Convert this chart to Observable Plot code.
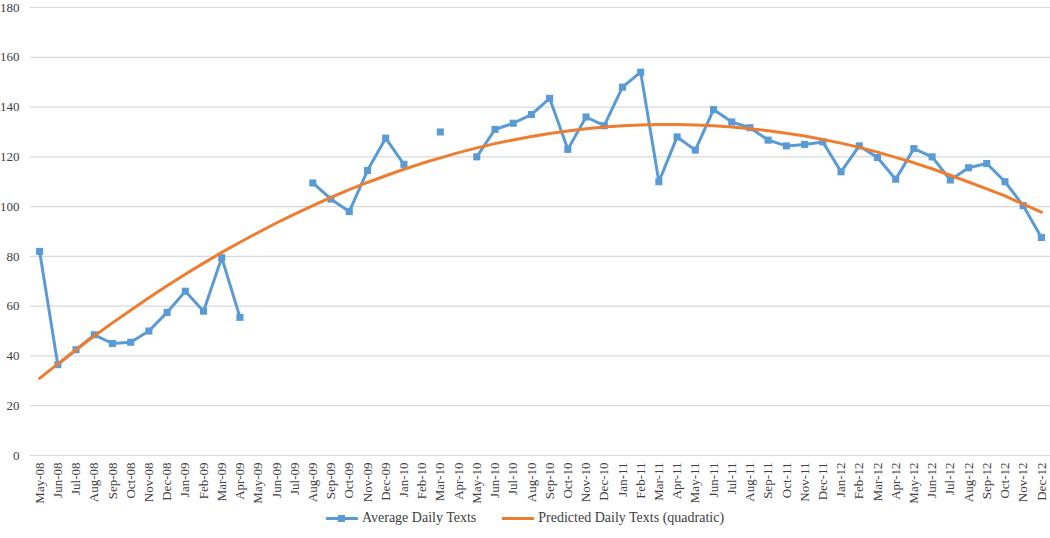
<!DOCTYPE html>
<html>
<head>
<meta charset="utf-8">
<script src="https://cdn.jsdelivr.net/npm/d3@7"></script>
<script src="https://cdn.jsdelivr.net/npm/@observablehq/plot@0.6"></script>
<style>
  body { margin: 0; background: #fff; font-family: 'Liberation Serif', 'Times New Roman', serif; }
  #legend { display: flex; justify-content: center; gap: 26px; font-size: 14px; color: #404040; margin-top: 2px; }
  #legend .item { display: flex; align-items: center; gap: 4px; }
</style>
</head>
<body>
<div id="chart"></div>
<div id="legend"></div>
<script>
const months = [
  "May-08","Jun-08","Jul-08","Aug-08","Sep-08","Oct-08","Nov-08","Dec-08",
  "Jan-09","Feb-09","Mar-09","Apr-09","May-09","Jun-09","Jul-09","Aug-09","Sep-09","Oct-09","Nov-09","Dec-09",
  "Jan-10","Feb-10","Mar-10","Apr-10","May-10","Jun-10","Jul-10","Aug-10","Sep-10","Oct-10","Nov-10","Dec-10",
  "Jan-11","Feb-11","Mar-11","Apr-11","May-11","Jun-11","Jul-11","Aug-11","Sep-11","Oct-11","Nov-11","Dec-11",
  "Jan-12","Feb-12","Mar-12","Apr-12","May-12","Jun-12","Jul-12","Aug-12","Sep-12","Oct-12","Nov-12","Dec-12"
];
const averageDailyTexts = [
  82, 36.5, 42.5, 48.5, 45, 45.5, 50, 57.5,
  66, 58, 79.5, 55.5, null, null, null, 109.5, 103, 98, 114.5, 127.5,
  117, null, 130, null, 120, 131, 133.5, 137, 143.5, 123, 136, 132.5,
  148, 154, 110, 128, 122.7, 139, 134, 131.7, 126.7, 124.4, 125, 126,
  114, 124.4, 119.7, 111, 123.3, 120, 110.7, 115.6, 117.3, 110, 100.4, 87.6
];
const predictedDailyTexts = [
  31.0, 36.8, 42.5, 48.0, 53.3, 58.4, 63.4, 68.2,
  72.8, 77.3, 81.6, 85.7, 89.6, 93.4, 97.0, 100.4, 103.7, 106.8, 109.7, 112.4,
  115.0, 117.4, 119.6, 121.7, 123.6, 125.3, 126.8, 128.2, 129.4, 130.4, 131.3, 132.0,
  132.5, 132.8, 133.0, 133.0, 132.8, 132.5, 132.0, 131.3, 130.5, 129.5, 128.4, 127.0,
  125.5, 123.8, 121.9, 119.8, 117.6, 115.2, 112.6, 109.9, 107.1, 104.3, 101.0, 97.8
];
const yTicks = [0, 20, 40, 60, 80, 100, 120, 140, 160, 180];
const seriesNames = ["Average Daily Texts", "Predicted Daily Texts (quadratic)"];
const colors = ["#5b9bd5", "#ed7d31"];

const data = months.map((m, i) => ({ month: m, actual: averageDailyTexts[i], predicted: predictedDailyTexts[i] }));

const chart = Plot.plot({
  width: 1050,
  height: 508,
  marginLeft: 30,
  marginRight: 0,
  marginTop: 7,
  marginBottom: 53,
  style: { fontFamily: "'Liberation Serif', 'Times New Roman', serif", fontSize: "13px", color: "#404040", background: "#fff" },
  x: { type: "point", domain: months, padding: 0.5, round: false, label: null, tickRotate: -90, tickSize: 0, tickPadding: 7 },
  y: { domain: [0, 180], ticks: yTicks, label: null, tickSize: 0, tickPadding: 11 },
  marks: [
    Plot.ruleY(yTicks, { stroke: "#d9d9d9", strokeWidth: 1.2 }),
    Plot.line(data, { x: "month", y: "actual", stroke: colors[0], strokeWidth: 3, curve: "linear" }),
    Plot.dot(data.filter(d => d.actual != null), { x: "month", y: "actual", symbol: "square", fill: colors[0], r: 4 }),
    Plot.line(data, { x: "month", y: "predicted", stroke: colors[1], strokeWidth: 3, curve: "linear" })
  ]
});
document.getElementById("chart").appendChild(chart);

const legend = document.getElementById("legend");
seriesNames.forEach((name, i) => {
  const item = document.createElement("div");
  item.className = "item";
  const marker = i === 0 ? `<rect x="12" y="2" width="7" height="7" fill="${colors[i]}"/>` : "";
  item.innerHTML = `<svg width="32" height="11"><line x1="0" x2="32" y1="5.5" y2="5.5" stroke="${colors[i]}" stroke-width="3"/>${marker}</svg><span>${name}</span>`;
  legend.appendChild(item);
});
</script>
</body>
</html>
